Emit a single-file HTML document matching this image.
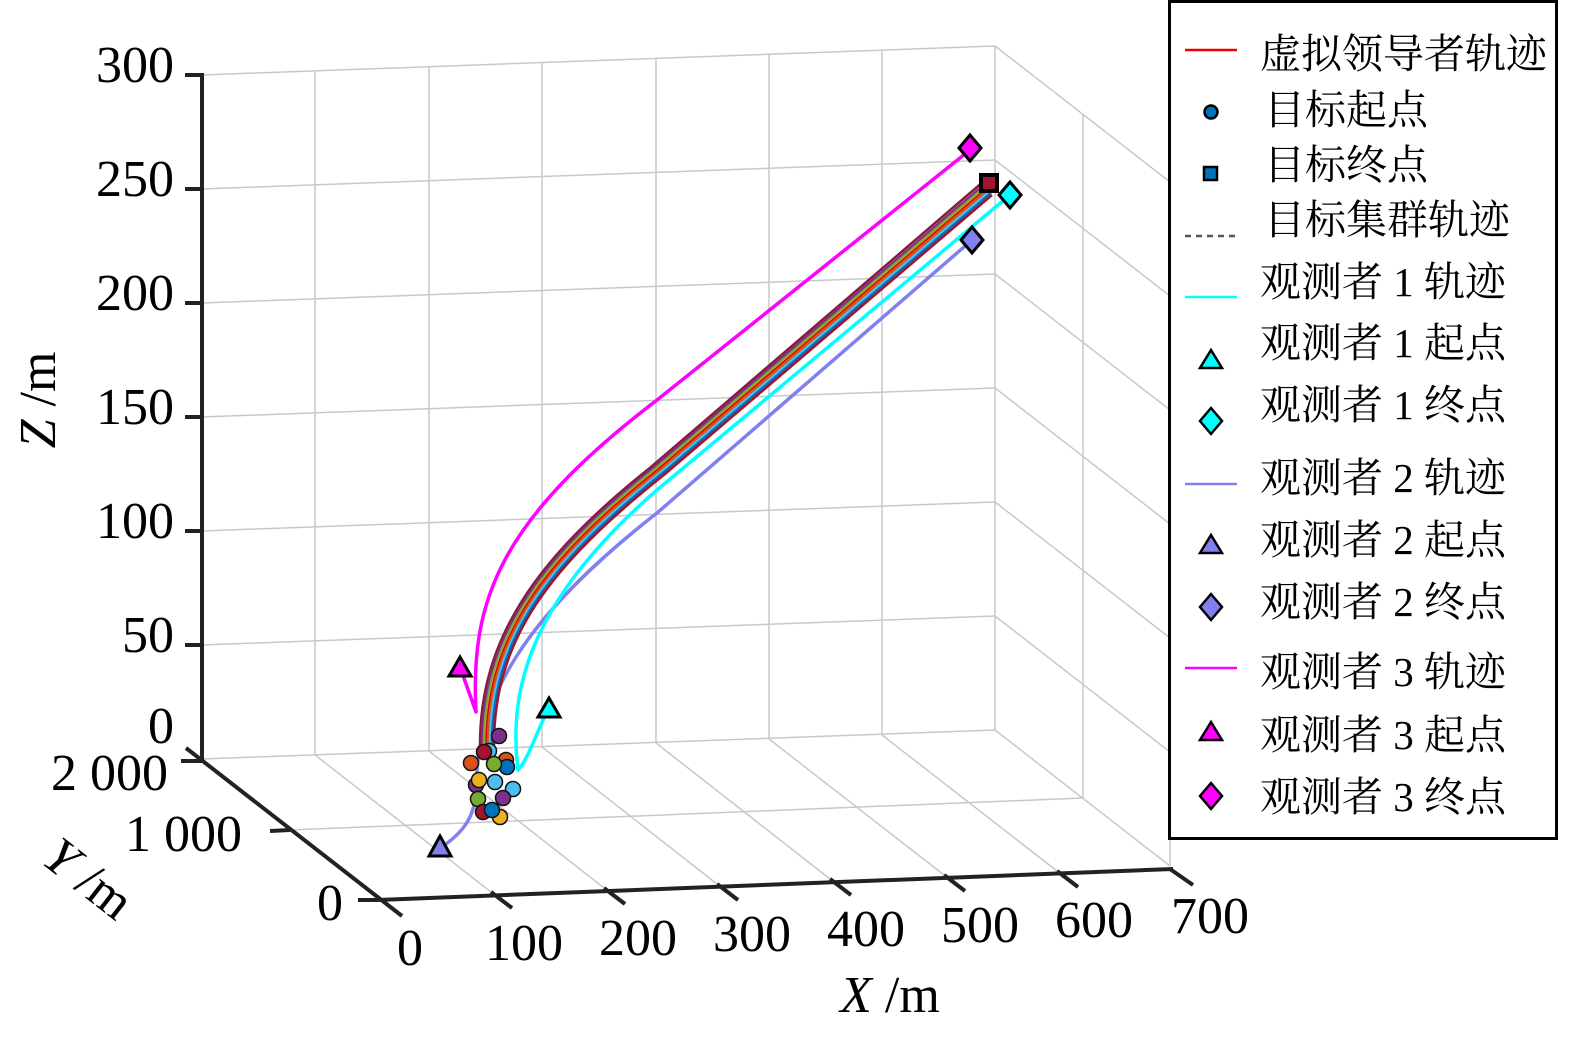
<!DOCTYPE html>
<html><head><meta charset="utf-8"><style>
body{margin:0;background:#fff}
text{font-family:"Liberation Serif","Noto Serif CJK SC",serif;fill:#000}
</style></head><body>
<svg width="1575" height="1033" viewBox="0 0 1575 1033" xmlns="http://www.w3.org/2000/svg">
<g stroke="#c8c8c8" stroke-width="1.5" fill="none">
<line x1="315" y1="71" x2="315" y2="755"/><line x1="429" y1="67" x2="429" y2="751"/>
<line x1="542" y1="63" x2="542" y2="747"/><line x1="656" y1="59" x2="656" y2="743"/>
<line x1="769" y1="55" x2="769" y2="739"/><line x1="882" y1="51" x2="882" y2="735"/>
<line x1="995" y1="46" x2="995" y2="730"/>
<line x1="202" y1="75" x2="995" y2="46"/><line x1="202" y1="189" x2="995" y2="160"/>
<line x1="202" y1="303" x2="995" y2="274"/><line x1="202" y1="417" x2="995" y2="388"/>
<line x1="202" y1="531" x2="995" y2="502"/><line x1="202" y1="645" x2="995" y2="616"/>
<line x1="202" y1="759" x2="995" y2="730"/>
<line x1="995" y1="46" x2="1170" y2="182"/><line x1="995" y1="160" x2="1170" y2="296"/>
<line x1="995" y1="274" x2="1170" y2="410"/><line x1="995" y1="388" x2="1170" y2="524"/>
<line x1="995" y1="502" x2="1170" y2="638"/><line x1="995" y1="616" x2="1170" y2="752"/>
<line x1="995" y1="730" x2="1170" y2="866"/>
<line x1="1083" y1="114" x2="1083" y2="798"/><line x1="1170" y1="182" x2="1170" y2="866"/>
<line x1="290" y1="830" x2="1083" y2="798"/>
<line x1="315" y1="755" x2="491" y2="892"/><line x1="429" y1="751" x2="604" y2="888"/>
<line x1="542" y1="747" x2="717" y2="884"/><line x1="656" y1="743" x2="830" y2="879"/>
<line x1="769" y1="739" x2="944" y2="875"/><line x1="882" y1="735" x2="1057" y2="871"/>
</g>
<g stroke="#222" stroke-width="4" fill="none">
<line x1="202" y1="73" x2="202" y2="761"/>
<line x1="185" y1="75" x2="202" y2="75"/><line x1="185" y1="189" x2="202" y2="189"/>
<line x1="185" y1="303" x2="202" y2="303"/><line x1="185" y1="417" x2="202" y2="417"/>
<line x1="185" y1="531" x2="202" y2="531"/><line x1="185" y1="645" x2="202" y2="645"/>
<line x1="186" y1="748" x2="402" y2="916"/>
<line x1="181" y1="761" x2="202" y2="761"/><line x1="270" y1="831" x2="290" y2="830"/>
<line x1="358" y1="900" x2="378" y2="900"/>
<line x1="378" y1="900" x2="1173" y2="869"/>
<line x1="491" y1="892" x2="512" y2="908"/><line x1="604" y1="888" x2="625" y2="904"/>
<line x1="717" y1="884" x2="738" y2="900"/><line x1="830" y1="879" x2="851" y2="895"/>
<line x1="944" y1="875" x2="965" y2="891"/><line x1="1057" y1="871" x2="1078" y2="887"/>
<line x1="1170" y1="869" x2="1193" y2="885"/>
</g>
<g font-size="52" text-anchor="end">
<text x="174" y="82">300</text><text x="174" y="196">250</text><text x="174" y="310">200</text>
<text x="174" y="424">150</text><text x="174" y="538">100</text><text x="174" y="652">50</text>
<text x="174" y="743">0</text>
<text x="168" y="790">2 000</text><text x="242" y="851">1 000</text><text x="343" y="920">0</text>
</g>
<g font-size="52" text-anchor="middle">
<text x="410" y="965">0</text><text x="524" y="960">100</text><text x="638" y="955">200</text>
<text x="752" y="951">300</text><text x="866" y="946">400</text><text x="980" y="942">500</text>
<text x="1094" y="937">600</text><text x="1210" y="933">700</text>
<text x="890" y="1012"><tspan font-style="italic">X</tspan> /m</text>
</g>
<text font-size="52" transform="translate(55,400) rotate(-90)" text-anchor="middle"><tspan font-style="italic">Z</tspan> /m</text>
<text font-size="52" transform="translate(78,892) rotate(38)" text-anchor="middle"><tspan font-style="italic">Y</tspan> /m</text>

<g fill="none" stroke-width="3.5" stroke-linejoin="round">
<path d="M440,848 C465,832 475,815 476,790 C477,700 520,620 657,513 L972,240" stroke="#8080f0"/>
<path d="M549,708 C538,728 528,760 518,770 C508,690 530,600 657,490 L1010,195" stroke="#00ffff"/>
<path d="M460,667 L476,712 C470,600 500,520 657,400 L970,150" stroke="#ff00ff"/>
</g>
<g fill="none" stroke-width="2.5">
<path d="M480,745 C480,640 534,560 651,467 L984,181" stroke="#8b1a3a"/>
<path d="M482,745 C482,640 536,561 653,468 L986,183" stroke="#7e2f8e"/>
<path d="M484,745 C484,640 538,562 655,469 L987,185" stroke="#77ac30"/>
<path d="M486,745 C486,640 540,563 657,470 L988,187" stroke="#edb120"/>
<path d="M488,745 C488,640 542,564 659,471 L989,189" stroke="#d95319"/>
<path d="M490,745 C490,640 544,565 661,472 L990,191" stroke="#4dbeee"/>
<path d="M492,745 C492,640 546,566 663,473 L991,193" stroke="#0072bd"/>
<path d="M494,745 C494,640 548,567 665,474 L992,195" stroke="#a2142f"/>
<path d="M486,745 C486,640 540,563 657,470 L988,187" stroke="#d00" stroke-width="1.5"/>
</g>
<g stroke="#111" stroke-width="1.5">
<circle cx="499" cy="736" r="7.5" fill="#7e2f8e"/><circle cx="489" cy="751" r="7.5" fill="#4dbeee"/>
<circle cx="484" cy="752" r="7.5" fill="#a2142f"/><circle cx="471" cy="763" r="7.5" fill="#d95319"/>
<circle cx="506" cy="760" r="7.5" fill="#d95319"/><circle cx="507" cy="767" r="7.5" fill="#0072bd"/>
<circle cx="494" cy="764" r="7.5" fill="#77ac30"/><circle cx="476" cy="785" r="7.5" fill="#7e2f8e"/>
<circle cx="479" cy="780" r="7.5" fill="#edb120"/><circle cx="495" cy="782" r="7.5" fill="#4dbeee"/>
<circle cx="513" cy="789" r="7.5" fill="#4dbeee"/><circle cx="478" cy="799" r="7.5" fill="#77ac30"/>
<circle cx="503" cy="798" r="7.5" fill="#7e2f8e"/><circle cx="483" cy="812" r="7.5" fill="#a2142f"/>
<circle cx="500" cy="817" r="7.5" fill="#edb120"/><circle cx="492" cy="810" r="7.5" fill="#0072bd"/>
</g>
<g stroke="#000" stroke-width="3">
<polygon points="440,836 451,856 429,856" fill="#8080f0"/>
<polygon points="549,698 560,717 538,717" fill="#00ffff"/>
<polygon points="460,657 471,676 449,676" fill="#ff00ff"/>
<polygon points="970,135 981,148 970,161 959,148" fill="#ff00ff"/>
<polygon points="1010,182 1021,195 1010,208 999,195" fill="#00ffff"/>
<polygon points="972,227 983,240 972,253 961,240" fill="#8080f0"/>
<rect x="981" y="175" width="16" height="16" fill="#a2142f" stroke-width="4"/>
</g>
<rect x="1169.5" y="1.5" width="387" height="837" fill="#fff" stroke="#000" stroke-width="3"/>
<g stroke-width="2.5">
<line x1="1185" y1="50" x2="1237" y2="50" stroke="#e00"/>
<line x1="1185" y1="236" x2="1237" y2="236" stroke="#555" stroke-dasharray="6,5"/>
<line x1="1185" y1="297" x2="1237" y2="297" stroke="#00ffff"/>
<line x1="1185" y1="484" x2="1237" y2="484" stroke="#8080f0"/>
<line x1="1185" y1="668" x2="1237" y2="668" stroke="#ff00ff"/>
</g>
<g stroke="#000" stroke-width="2.5">
<circle cx="1211" cy="112" r="6.5" fill="#0072bd"/>
<rect x="1204" y="167" width="13" height="13" fill="#0072bd"/>
<polygon points="1211,350 1222,368 1200,368" fill="#00ffff"/>
<polygon points="1211,408 1222,421 1211,434 1200,421" fill="#00ffff"/>
<polygon points="1211,535 1222,553 1200,553" fill="#8080f0"/>
<polygon points="1211,594 1222,607 1211,620 1200,607" fill="#8080f0"/>
<polygon points="1211,722 1222,740 1200,740" fill="#ff00ff"/>
<polygon points="1211,783 1222,796 1211,809 1200,796" fill="#ff00ff"/>
</g>
<g font-size="41">
<text x="1260" y="68">虚拟领导者轨迹</text>
<text x="1264" y="124">目标起点</text>
<text x="1264" y="179">目标终点</text>
<text x="1264" y="234">目标集群轨迹</text>
<text x="1260" y="296">观测者 1 轨迹</text>
<text x="1260" y="357">观测者 1 起点</text>
<text x="1260" y="419">观测者 1 终点</text>
<text x="1260" y="492">观测者 2 轨迹</text>
<text x="1260" y="554">观测者 2 起点</text>
<text x="1260" y="616">观测者 2 终点</text>
<text x="1260" y="686">观测者 3 轨迹</text>
<text x="1260" y="749">观测者 3 起点</text>
<text x="1260" y="811">观测者 3 终点</text>
</g>
</svg>
</body></html>
